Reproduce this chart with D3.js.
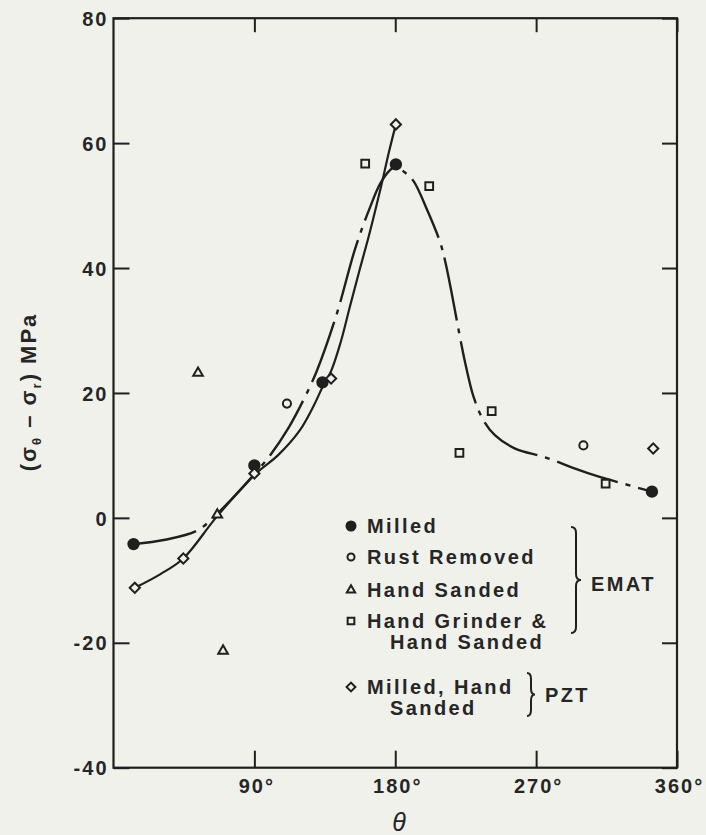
<!DOCTYPE html>
<html>
<head>
<meta charset="utf-8">
<script src="https://cdn.jsdelivr.net/npm/d3@7"></script>
<style>
  html, body { margin: 0; padding: 0; background: #f1f1ec; }
  svg { display: block; }
  text { font-family: "Liberation Sans", Arial, Helvetica, sans-serif; font-weight: bold; fill: #262626; }
</style>
</head>
<body>
<svg id="chart" width="706" height="835"></svg>
<script>
// Stress difference (sigma_theta - sigma_r) around the circumference, in MPa

// EMAT: milled surface
const milledTheta = [12.8, 90, 133.5, 180.4, 344];
const milledValue = [-4.2, 8.4, 21.7, 56.6, 4.2];

// EMAT: rust removed
const rustTheta = [110.8, 300.2];
const rustValue = [18.3, 11.6];

// EMAT: hand sanded
const sandedTheta = [54, 66.3, 70];
const sandedValue = [23.2, 0.5, -21.3];

// EMAT: hand grinder & hand sanded
const grinderTheta = [160.8, 201.7, 221, 241.6, 314.4];
const grinderValue = [56.7, 53.1, 10.4, 17.1, 5.5];

// PZT: milled, hand sanded
const pztTheta = [13.6, 44.6, 90, 139, 180.4, 344.8];
const pztValue = [-11.2, -6.5, 7.1, 22.3, 63, 11.1];

// Hand-faired trend through the EMAT results (dash-dot)
const ematFitTheta = [12.8, 33, 53.6, 66.4, 80, 90, 100, 112, 122, 130, 142.7, 154.5, 164, 170.4, 176.8, 180.5,
                      185.7, 191.5, 200.4, 208.7, 212.5, 222, 224.7, 230, 236.4, 243.8, 256.6, 275.7, 294.9, 307.6, 344];
const ematFitValue = [-4.2, -3.5, -2.0, 0.7, 4.2, 7.0, 10.0, 14.5, 19.2, 23.6, 32.7, 43.2, 49.8, 53.5, 55.7, 56.3,
                      55.4, 54.0, 49.3, 44.1, 40.4, 28.1, 24.8, 19.4, 15.6, 13.2, 11.1, 9.7, 7.9, 6.8, 4.2];

// Hand-faired trend through the PZT results (solid)
const pztFitTheta = [13.6, 30, 44.6, 66, 91, 105, 119, 128, 134, 139, 145, 151, 157, 163, 168, 172, 176, 180.4];
const pztFitValue = [-11.2, -9.0, -6.5, 0.2, 7.1, 10.0, 14.0, 18.0, 21.2, 23.5, 28.0, 33.8, 39.5, 45.0, 50.0, 54.2, 58.6, 63.0];

// Axis ticks
const thetaTicks = [90, 180, 270, 360];
const valueTicks = [-40, -20, 0, 20, 40, 60, 80];

const ink = "#1f1f1f";
const paper = "#f1f1ec";

const svg = d3.select("#chart");

const x = d3.scaleLinear().domain([0, 360]).range([113.5, 677]);
const y = d3.scaleLinear().domain([-40, 80]).range([767.7, 18.2]);

// Axes with inward ticks
const tickFont = g => g.selectAll("text")
  .style("font-size", "20px")
  .style("letter-spacing", "2px")
  .style("font-family", "\"Liberation Sans\", Arial, sans-serif")
  .style("font-weight", "bold")
  .attr("fill", "#262626");

const axisStyle = g => {
  g.select(".domain").remove();
  g.selectAll(".tick line").attr("stroke", ink).attr("stroke-width", 2);
};

svg.append("g")
  .attr("transform", `translate(${x(0)},0)`)
  .call(d3.axisLeft(y).tickValues(valueTicks).tickSize(-16).tickPadding(5).tickFormat(d => d))
  .call(axisStyle)
  .call(tickFont)
  .call(g => g.selectAll("text").attr("dy", "0.36em"));

svg.append("g")
  .attr("transform", `translate(${x(360)},0)`)
  .call(d3.axisRight(y).tickValues(valueTicks).tickSize(-15).tickFormat(""))
  .call(axisStyle);

svg.append("g")
  .attr("transform", `translate(0,${y(-40)})`)
  .call(d3.axisBottom(x).tickValues(thetaTicks).tickSize(-17).tickPadding(6).tickFormat(d => d + "°"))
  .call(axisStyle)
  .call(tickFont)
  .call(g => g.selectAll("text").attr("dy", "0.95em").attr("dx", "2px"));

svg.append("g")
  .attr("transform", `translate(0,${y(80)})`)
  .call(d3.axisTop(x).tickValues(thetaTicks).tickSize(-14).tickFormat(""))
  .call(axisStyle);

// Plot frame
svg.append("rect")
  .attr("x", x(0)).attr("y", y(80))
  .attr("width", x(360) - x(0)).attr("height", y(-40) - y(80))
  .attr("fill", "none").attr("stroke", ink).attr("stroke-width", 2.2);

// Axis titles
svg.append("text")
  .attr("x", 399).attr("y", 831)
  .attr("text-anchor", "middle")
  .style("font-size", "25px").style("font-style", "italic").style("font-weight", "normal")
  .text("θ");

const yTitle = svg.append("text")
  .attr("transform", "translate(28,392) rotate(-90)")
  .attr("text-anchor", "middle")
  .attr("dy", "0.35em")
  .style("font-size", "22px").style("letter-spacing", "2px");
yTitle.append("tspan").text("(σ");
yTitle.append("tspan").attr("dy", 5).style("font-size", "13px").text("θ");
yTitle.append("tspan").attr("dy", -5).text(" – σ");
yTitle.append("tspan").attr("dy", 5).style("font-size", "13px").text("r");
yTitle.append("tspan").attr("dy", -5).text(") MPa");

// Trend curves
const line = d3.line()
  .x(d => x(d[0]))
  .y(d => y(d[1]))
  .curve(d3.curveCatmullRom.alpha(0.5));

svg.append("path")
  .datum(ematFitTheta.map((t, i) => [t, ematFitValue[i]]))
  .attr("d", line)
  .attr("fill", "none").attr("stroke", ink).attr("stroke-width", 2.4)
  .attr("stroke-dasharray", "64,8,5,8");

svg.append("path")
  .datum(pztFitTheta.map((t, i) => [t, pztFitValue[i]]))
  .attr("d", line)
  .attr("fill", "none").attr("stroke", ink).attr("stroke-width", 2.2);

// Marker shapes
const shapes = {
  filled:  { type: d3.symbolCircle, size: 85, fill: ink, rotate: 0 },
  circle:  { type: d3.symbolCircle, size: 52, fill: paper, rotate: 0 },
  triangle:{ type: d3.symbolTriangle, size: 40, fill: paper, rotate: 0 },
  square:  { type: d3.symbolSquare, size: 60, fill: paper, rotate: 0 },
  diamond: { type: d3.symbolSquare, size: 52, fill: paper, rotate: 45 }
};

function drawMarkers(thetas, values, key) {
  const s = shapes[key];
  svg.append("g").selectAll("path")
    .data(thetas.map((t, i) => [t, values[i]]))
    .join("path")
    .attr("d", d3.symbol().type(s.type).size(s.size))
    .attr("transform", d => `translate(${x(d[0])},${y(d[1])}) rotate(${s.rotate})`)
    .attr("fill", s.fill).attr("stroke", ink).attr("stroke-width", 2);
}

drawMarkers(sandedTheta, sandedValue, "triangle");
drawMarkers(grinderTheta, grinderValue, "square");
drawMarkers(rustTheta, rustValue, "circle");
drawMarkers(milledTheta, milledValue, "filled");
drawMarkers(pztTheta, pztValue, "diamond");

// Legend
const legendRows = [
  { key: "filled",   lines: ["Milled"], y: 526 },
  { key: "circle",   lines: ["Rust Removed"], y: 557 },
  { key: "triangle", lines: ["Hand Sanded"], y: 590 },
  { key: "square",   lines: ["Hand Grinder &", "Hand Sanded"], y: 621 },
  { key: "diamond",  lines: ["Milled, Hand", "Sanded"], y: 687 }
];

const legend = svg.append("g");
legendRows.forEach(r => {
  const s = shapes[r.key];
  legend.append("path")
    .attr("d", d3.symbol().type(s.type).size(s.size * 0.75))
    .attr("transform", `translate(351,${r.y}) rotate(${s.rotate})`)
    .attr("fill", s.fill).attr("stroke", ink).attr("stroke-width", 2);
  r.lines.forEach((t, i) => {
    legend.append("text")
      .attr("x", i === 0 ? 367 : 390)
      .attr("y", r.y + i * 21)
      .attr("dy", "0.36em")
      .style("font-size", "20px").style("letter-spacing", "2.4px")
      .text(t);
  });
});

// Grouping braces
function brace(xb, y0, y1, w) {
  const ym = (y0 + y1) / 2, r = 6;
  return `M${xb},${y0} Q${xb + w},${y0} ${xb + w},${y0 + r} L${xb + w},${ym - r} ` +
         `Q${xb + w},${ym} ${xb + 2 * w},${ym} Q${xb + w},${ym} ${xb + w},${ym + r} ` +
         `L${xb + w},${y1 - r} Q${xb + w},${y1} ${xb},${y1}`;
}

legend.append("path").attr("d", brace(571, 527, 633, 5))
  .attr("fill", "none").attr("stroke", ink).attr("stroke-width", 2);
legend.append("text").attr("x", 591).attr("y", 584).attr("dy", "0.36em")
  .style("font-size", "20px").style("letter-spacing", "2.4px").text("EMAT");

legend.append("path").attr("d", brace(527, 673, 716, 4))
  .attr("fill", "none").attr("stroke", ink).attr("stroke-width", 2);
legend.append("text").attr("x", 545).attr("y", 695).attr("dy", "0.36em")
  .style("font-size", "20px").style("letter-spacing", "2.4px").text("PZT");
</script>
</body>
</html>
